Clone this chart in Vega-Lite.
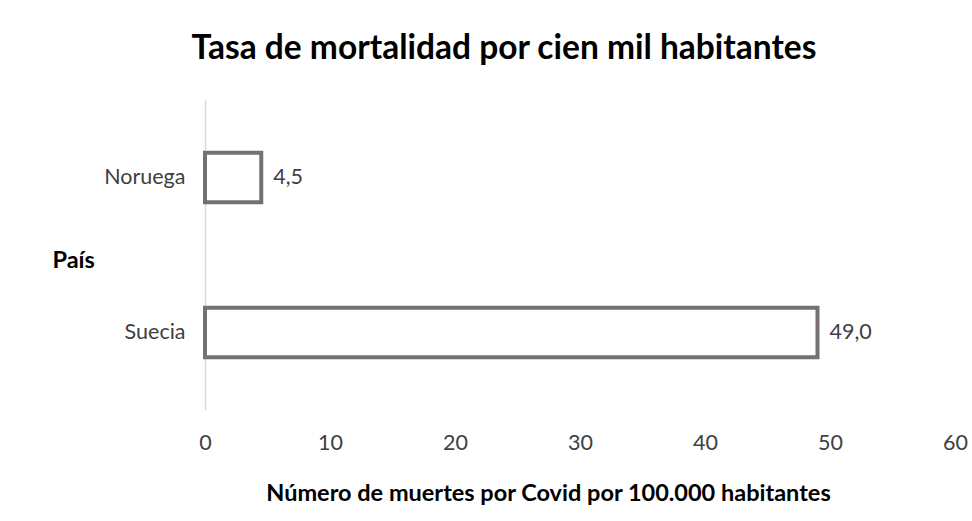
{
  "$schema": "https://vega.github.io/schema/vega-lite/v6.json",
  "width": 750,
  "height": 310,
  "autosize": {"type": "none"},
  "padding": {"left": 205, "top": 100, "right": 17, "bottom": 111},
  "background": "white",
  "title": {
    "text": "Tasa de mortalidad por cien mil habitantes",
    "font": "Lato",
    "fontSize": 33.5,
    "fontWeight": "bold",
    "color": "#000000",
    "anchor": "middle",
    "dx": -76,
    "offset": 34
  },
  "config": {
    "view": {"stroke": null},
    "locale": {"number": {"decimal": ",", "thousands": ".", "grouping": [3], "currency": ["", " €"]}}
  },
  "data": {
    "values": [
      {"pais": "Noruega", "tasa": 4.5},
      {"pais": "Suecia", "tasa": 49.0}
    ]
  },
  "encoding": {
    "y": {
      "field": "pais",
      "type": "nominal",
      "sort": ["Noruega", "Suecia"],
      "scale": {"paddingInner": 0.68, "paddingOuter": 0.34},
      "axis": {
        "title": "País",
        "titleAngle": 0,
        "titleFont": "Lato",
        "titleFontSize": 23.5,
        "titleFontWeight": "bold",
        "titleColor": "#000000",
        "titleAlign": "left",
        "titleBaseline": "middle",
        "titleX": -153,
        "titleY": 160,
        "labelFont": "Lato",
        "labelFontSize": 21.5,
        "labelColor": "#404040",
        "labelPadding": 20,
        "ticks": false,
        "domainColor": "#d9d9d9",
        "domainWidth": 1.5
      }
    },
    "x": {
      "field": "tasa",
      "type": "quantitative",
      "scale": {"domain": [0, 60], "nice": false},
      "axis": {
        "title": "Número de muertes por Covid por 100.000 habitantes",
        "titleFont": "Lato",
        "titleFontSize": 23.5,
        "titleFontWeight": "bold",
        "titleColor": "#000000",
        "titleX": 343,
        "titleY": 83,
        "titleBaseline": "middle",
        "labelFont": "Lato",
        "labelFontSize": 21.5,
        "labelColor": "#404040",
        "labelPadding": 22,
        "values": [0, 10, 20, 30, 40, 50, 60],
        "ticks": false,
        "domain": false,
        "grid": false,
        "labelFlush": false
      }
    }
  },
  "layer": [
    {
      "mark": {"type": "bar", "fill": "white", "stroke": "#767171", "strokeWidth": 4}
    },
    {
      "mark": {"type": "text", "align": "left", "baseline": "middle", "dx": 12, "font": "Lato", "fontSize": 21.5, "color": "#404040"},
      "encoding": {"text": {"field": "tasa", "type": "quantitative", "format": ".1f"}}
    }
  ]
}
